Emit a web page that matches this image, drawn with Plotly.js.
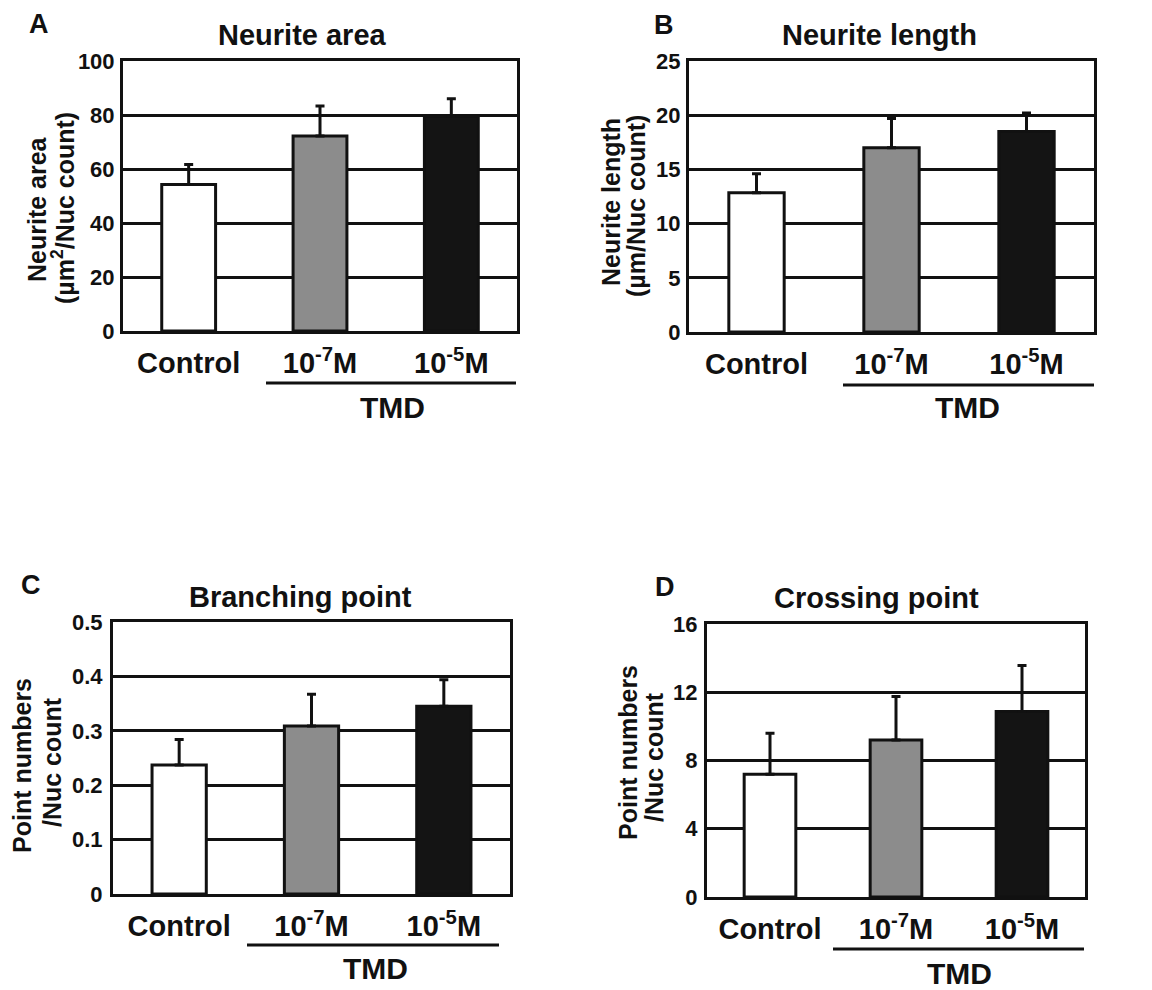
<!DOCTYPE html>
<html>
<head>
<meta charset="utf-8">
<script src="https://cdn.plot.ly/plotly-3.0.1.min.js"></script>
<style>html,body{margin:0;padding:0;background:#fff;}#chart{width:1152px;height:990px;}</style>
</head>
<body>
<div id="chart"></div>
<script>
// ---- data ----
const categories = ['Control', '10<sup>-7</sup>M', '10<sup>-5</sup>M'];
const barColors = ['#ffffff', '#8c8c8c', '#141414'];

const areaMean = [54.3, 72.2, 79.4];
const areaSD = [7.4, 11.1, 6.6];

const lengthMean = [12.85, 17.0, 18.5];
const lengthSD = [1.75, 2.7, 1.7];

const branchMean = [0.237, 0.309, 0.345];
const branchSD = [0.047, 0.058, 0.049];

const crossMean = [7.2, 9.2, 10.87];
const crossSD = [2.4, 2.55, 2.7];

const panelTitles = ['Neurite area', 'Neurite length', 'Branching point', 'Crossing point'];
const panelLetters = ['A', 'B', 'C', 'D'];
const yTitleLines = [
  ['Neurite area', '(µm<sup>2</sup>/Nuc count)'],
  ['Neurite length', '(µm/Nuc count)'],
  ['Point numbers', '/Nuc count'],
  ['Point numbers', '/Nuc count']
];
const groupLabel = 'TMD';
const yMax = [100, 25, 0.5, 16];
const yStep = [20, 5, 0.1, 4];

// ---- layout helpers ----
const W = 1152, H = 990;
const fx = p => p / W;
const fy = p => 1 - p / H;
const FONT = 'Liberation Sans, Arial, Helvetica, sans-serif';
const INK = '#111111';

const panels = [
  {mean: areaMean, sd: areaSD, dx: [123, 517], dy: [61, 331], title: [302, 35], letter: [39, 24],
   yl: [[37, 209], [63, 208]], br: [266, 516, 383], tmd: [392, 407], stand: 1},
  {mean: lengthMean, sd: lengthSD, dx: [689, 1094], dy: [61, 332], title: [879, 35], letter: [664, 25],
   yl: [[611, 202], [636, 206]], br: [843, 1094, 385], tmd: [967, 407], stand: 1},
  {mean: branchMean, sd: branchSD, dx: [113, 510], dy: [622, 894], title: [300, 597], letter: [31, 585],
   yl: [[22, 766], [52, 762]], br: [247, 499, 945], tmd: [375, 968], stand: 3},
  {mean: crossMean, sd: crossSD, dx: [707, 1085], dy: [624, 897], title: [876, 598], letter: [665, 587],
   yl: [[628, 753], [654, 757]], br: [833, 1084, 949], tmd: [959, 973], stand: 2}
];

const traces = [];
const layout = {
  width: W, height: H,
  margin: {l: 0, r: 0, t: 0, b: 0},
  paper_bgcolor: '#ffffff', plot_bgcolor: '#ffffff',
  showlegend: false,
  font: {family: FONT, color: INK, weight: 'bold'},
  annotations: [], shapes: []
};

panels.forEach((p, i) => {
  const n = i === 0 ? '' : String(i + 1);
  traces.push({
    type: 'bar', x: categories, y: p.mean,
    xaxis: 'x' + n, yaxis: 'y' + n,
    width: 0.41,
    marker: {color: barColors, line: {color: INK, width: 3}},
    error_y: {type: 'data', symmetric: false, array: p.sd, arrayminus: [0, 0, 0],
              color: INK, thickness: 3, width: 4.5},
    hoverinfo: 'skip'
  });
  layout['xaxis' + n] = {
    domain: [fx(p.dx[0]), fx(p.dx[1])], anchor: 'y' + n,
    type: 'category', range: [-0.5, 2.5],
    showline: true, mirror: true, linecolor: INK, linewidth: 3,
    showgrid: false, zeroline: false, ticks: '',
    tickfont: {family: FONT, size: 29, color: INK, weight: 'bold'},
    ticklabelstandoff: 4, fixedrange: true
  };
  layout['yaxis' + n] = {
    domain: [fy(p.dy[1]), fy(p.dy[0])], anchor: 'x' + n,
    range: [0, yMax[i]], dtick: yStep[i], tick0: 0,
    showline: true, mirror: true, linecolor: INK, linewidth: 3,
    showgrid: true, gridcolor: INK, gridwidth: 3, zeroline: false, ticks: '',
    tickfont: {family: FONT, size: 22, color: INK, weight: 'bold'},
    ticklabelstandoff: p.stand, fixedrange: true
  };
  layout.annotations.push({xref: 'paper', yref: 'paper', x: fx(p.title[0]), y: fy(p.title[1]),
    text: panelTitles[i], showarrow: false, xanchor: 'center', yanchor: 'middle',
    font: {family: FONT, size: 29, color: INK, weight: 'bold'}});
  layout.annotations.push({xref: 'paper', yref: 'paper', x: fx(p.letter[0]), y: fy(p.letter[1]),
    text: panelLetters[i], showarrow: false, xanchor: 'center', yanchor: 'middle',
    font: {family: FONT, size: 27, color: INK, weight: 'bold'}});
  yTitleLines[i].forEach((t, k) => {
    layout.annotations.push({xref: 'paper', yref: 'paper', x: fx(p.yl[k][0]), y: fy(p.yl[k][1]),
      text: t, showarrow: false, textangle: -90, xanchor: 'center', yanchor: 'middle',
      font: {family: FONT, size: 25, color: INK, weight: 'bold'}});
  });
  layout.shapes.push({type: 'line', xref: 'paper', yref: 'paper',
    x0: fx(p.br[0]), x1: fx(p.br[1]), y0: fy(p.br[2]), y1: fy(p.br[2]),
    line: {color: INK, width: 3}});
  layout.annotations.push({xref: 'paper', yref: 'paper', x: fx(p.tmd[0]), y: fy(p.tmd[1]),
    text: groupLabel, showarrow: false, xanchor: 'center', yanchor: 'middle',
    font: {family: FONT, size: 30, color: INK, weight: 'bold'}});
});

Plotly.newPlot('chart', traces, layout, {staticPlot: true, displayModeBar: false});
</script>
</body>
</html>
